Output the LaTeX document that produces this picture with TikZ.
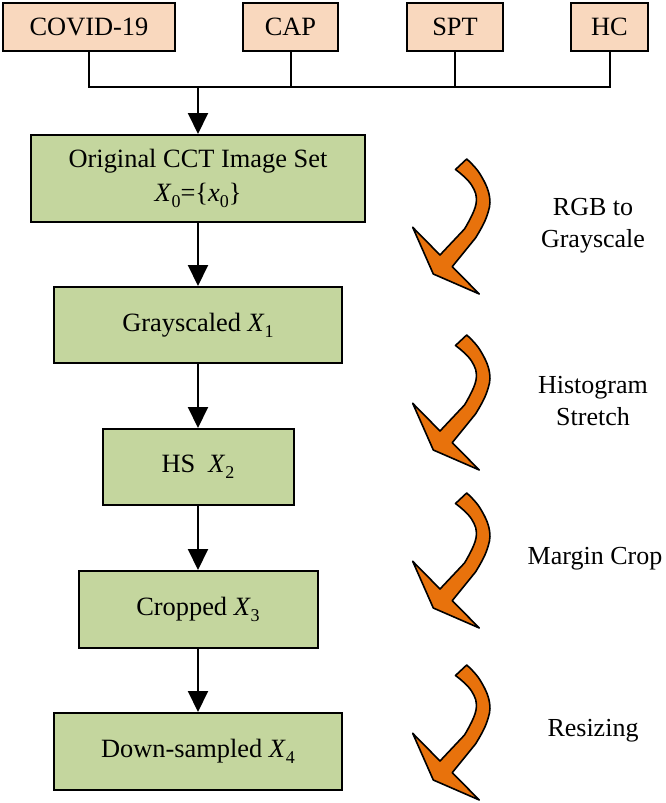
\documentclass[tikz,border=0pt]{standalone}
\usepackage{fontspec}
\setmainfont{Liberation Serif}
\usetikzlibrary{arrows.meta}
\definecolor{peach}{RGB}{249,216,190}
\definecolor{boxgreen}{RGB}{196,214,158}
\definecolor{arrorange}{RGB}{232,114,12}
\newcommand{\sbx}[1]{\raisebox{-0.22em}{\fontsize{18}{18}\selectfont #1}}
\tikzset{
  txt/.style={font=\fontsize{26.4}{34}\selectfont},
  topbox/.style={draw=black, line width=2pt, fill=peach, minimum height=48pt, inner sep=0pt, txt},
  mainbox/.style={draw=black, line width=2pt, fill=boxgreen, inner sep=0pt, align=center, txt},
  conn/.style={draw=black, line width=2pt},
  arr/.style={conn, -{Triangle[width=20pt,length=21pt]}},
  curvearrow/.style={draw=black, fill=arrorange, line width=1.6pt, line join=round},
  steplabel/.style={align=center, font=\fontsize{26}{32}\selectfont}
}
\begin{document}
\begin{tikzpicture}[x=1pt,y=-1pt]
\useasboundingbox (0,0) rectangle (666,803);
% top boxes
\node[topbox, minimum width=172pt] (covid) at (89,27) {COVID-19};
\node[topbox, minimum width=95pt] (cap) at (290.5,27) {CAP};
\node[topbox, minimum width=96pt] (spt) at (455,27) {SPT};
\node[topbox, minimum width=77pt] (hc) at (609.5,27) {HC};
\coordinate (bus) at (198,87);
% main boxes
\node[mainbox, minimum width=334pt, minimum height=87pt] (b1) at (198,178.5)
  {Original CCT Image Set\\\textit{X}\sbx{0}=\{\textit{x}\sbx{0}\}};
\node[mainbox, minimum width=288pt, minimum height=76pt] (b2) at (198,325)
  {Grayscaled \textit{X}\sbx{1}};
\node[mainbox, minimum width=191pt, minimum height=76pt] (b3) at (198,467)
  {HS\ \ \textit{X}\sbx{2}};
\node[mainbox, minimum width=239pt, minimum height=77pt] (b4) at (198,609.5)
  {Cropped \textit{X}\sbx{3}};
\node[mainbox, minimum width=288pt, minimum height=77pt] (b5) at (198,751.5)
  {Down-sampled \textit{X}\sbx{4}};
% connectors
\draw[conn, line join=miter] (covid.south) |- (bus) -| (hc.south);
\draw[conn] (cap.south) -- (cap.south |- bus);
\draw[conn] (spt.south) -- (spt.south |- bus);
\draw[arr] (bus) -- (b1.north);
\draw[arr] (b1.south) -- (b2.north);
\draw[arr] (b2.south) -- (b3.north);
\draw[arr] (b3.south) -- (b4.north);
\draw[arr] (b4.south) -- (b5.north);
% curved arrows
\foreach \ty in {159,335,493,665}{
  \begin{scope}[shift={(450,\ty)}]
    \draw[curvearrow] plot[smooth, tension=0.7] coordinates
        {(16.7,0) (30,15) (39.5,37.7) (36.5,58) (25.5,79)}
      -- (2.2,107.7) -- (29.3,135) -- (-16.7,115) -- (-37.3,68.3) -- (-10,96)
      -- plot[smooth, tension=0.7] coordinates
        {(14.5,70) (26,45) (21.5,26) (5.5,10.5)}
      -- cycle;
  \end{scope}
}
% labels
\node[steplabel] (l1) at (593,226) {RGB to\\Grayscale};
\node[steplabel] (l2) at (593,401) {Histogram\\Stretch};
\node[steplabel] (l3) at (595,559) {Margin Crop};
\node[steplabel] (l4) at (593,731) {Resizing};
\end{tikzpicture}
\end{document}
